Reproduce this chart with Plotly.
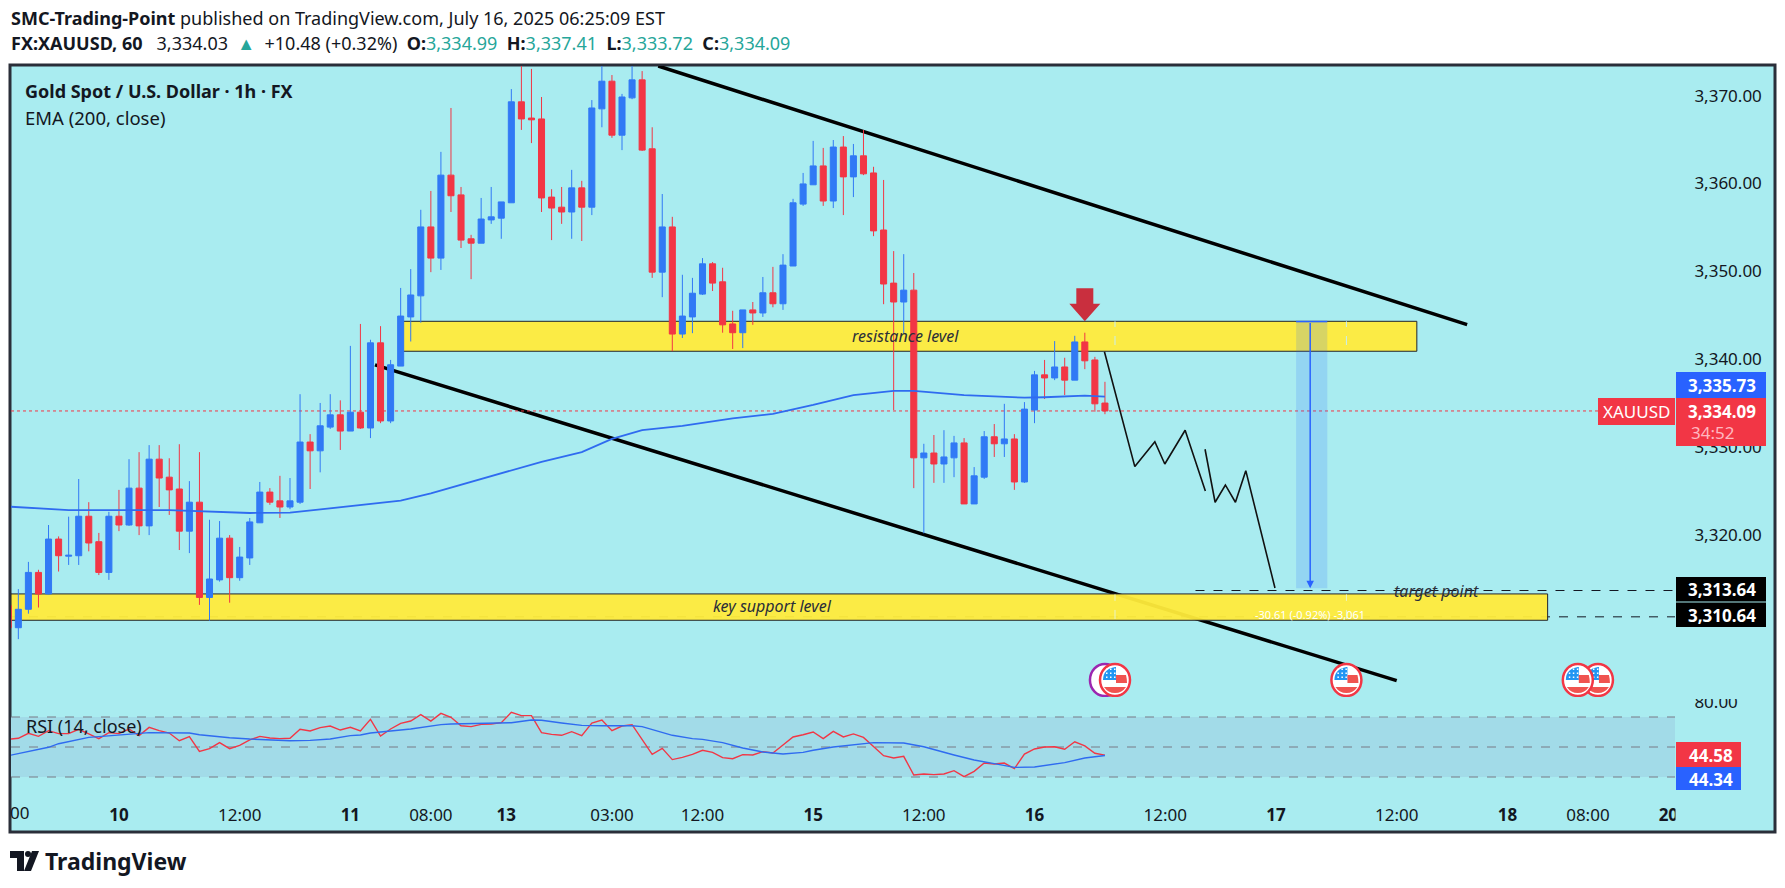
import plotly.graph_objects as go

W = 1785
H = 888
FONT = "Noto Sans"
INK = "#131722"
BLUE = "#3179f5"
RED = "#f23645"
TEAL = "#26a69a"

opens = [3311.9, 3309.4, 3311.5, 3315.7, 3313.25, 3319.5, 3317.55, 3317.6, 3322.1, 3319.2,
         3315.7, 3322.1, 3321.1, 3325.3, 3321.0, 3328.6, 3326.55, 3325.2, 3320.4, 3323.7,
         3312.85, 3314.85, 3319.6, 3315.1, 3317.35, 3321.35, 3324.85, 3323.85, 3323.15, 3323.7,
         3330.55, 3329.55, 3332.25, 3333.65, 3331.8, 3333.95, 3332.15, 3341.85, 3332.95, 3339.2,
         3344.8, 3347.2, 3355.05, 3351.5, 3360.95, 3358.7, 3353.7, 3353.2, 3355.85, 3356.05,
         3357.8, 3369.3, 3367.45, 3367.35, 3358.45, 3357.3, 3356.75, 3359.5, 3357.3, 3368.5,
         3371.65, 3365.5, 3369.75, 3371.8, 3363.95, 3349.9, 3355.05, 3342.85, 3344.8, 3347.4,
         3350.85, 3348.8, 3344.0, 3343.0, 3345.6, 3345.25, 3347.55, 3346.3, 3350.6, 3357.65,
         3359.85, 3362.0, 3358.0, 3364.15, 3360.75, 3363.15, 3361.2, 3354.7, 3348.65, 3346.5,
         3347.85, 3328.75, 3329.3, 3328.05, 3328.75, 3330.45, 3323.5, 3326.55, 3331.15, 3330.35,
         3330.9, 3326.0, 3334.2, 3338.2, 3337.85, 3339.1, 3337.6, 3341.95, 3339.9, 3334.99]
highs = [3312.0, 3313.8, 3316.9, 3316.0, 3321.1, 3319.8, 3322.05, 3326.34, 3323.7, 3320.2,
         3322.6, 3325.1, 3328.6, 3329.4, 3330.2, 3330.2, 3328.7, 3330.3, 3326.1, 3329.4,
         3321.7, 3321.55, 3319.95, 3318.6, 3321.9, 3326.0, 3325.3, 3326.7, 3326.45, 3336.0,
         3331.45, 3335.0, 3336.0, 3335.3, 3341.5, 3344.0, 3342.2, 3343.75, 3339.9, 3348.1,
         3350.25, 3357.0, 3359.15, 3363.6, 3368.6, 3359.6, 3354.15, 3358.35, 3359.6, 3357.9,
         3370.75, 3374.5, 3373.05, 3369.85, 3359.35, 3359.6, 3361.55, 3360.3, 3369.5, 3374.5,
         3372.35, 3370.2, 3374.2, 3372.8, 3366.4, 3358.8, 3356.2, 3349.6, 3349.25, 3351.5,
         3351.05, 3350.4, 3345.5, 3345.6, 3346.5, 3349.35, 3350.5, 3351.95, 3358.25, 3361.2,
         3364.85, 3364.05, 3364.95, 3365.4, 3364.5, 3366.1, 3361.9, 3360.4, 3352.3, 3351.95,
         3349.8, 3330.35, 3331.35, 3331.9, 3331.25, 3331.0, 3327.7, 3331.8, 3332.6, 3334.9,
         3331.45, 3335.1, 3338.65, 3339.9, 3342.05, 3340.15, 3342.65, 3343.0, 3340.25, 3337.41]
lows = [3309.4, 3308.1, 3311.0, 3311.7, 3313.2, 3315.8, 3316.55, 3316.55, 3318.1, 3315.4,
        3314.85, 3320.4, 3321.0, 3319.95, 3319.95, 3323.15, 3322.25, 3318.25, 3317.9, 3312.0,
        3310.2, 3314.65, 3312.25, 3314.75, 3316.55, 3321.33, 3323.4, 3321.9, 3322.9, 3323.5,
        3325.2, 3327.1, 3332.05, 3329.65, 3331.8, 3332.05, 3331.0, 3332.7, 3332.7, 3339.2,
        3342.0, 3344.15, 3349.9, 3350.15, 3356.75, 3352.65, 3349.1, 3353.2, 3355.4, 3353.7,
        3357.8, 3366.1, 3364.6, 3356.75, 3353.55, 3355.4, 3353.7, 3353.45, 3356.4, 3366.4,
        3365.2, 3363.8, 3369.6, 3363.7, 3349.25, 3347.05, 3340.9, 3342.4, 3342.95, 3347.3,
        3347.75, 3343.0, 3341.15, 3341.25, 3343.9, 3344.8, 3345.9, 3345.6, 3350.6, 3357.45,
        3359.85, 3357.45, 3357.2, 3356.4, 3358.45, 3360.95, 3354.0, 3346.25, 3334.2, 3342.9,
        3325.3, 3320.15, 3325.9, 3325.9, 3326.55, 3323.5, 3323.5, 3326.35, 3328.85, 3328.85,
        3325.1, 3325.9, 3332.7, 3335.45, 3337.6, 3335.9, 3337.6, 3338.85, 3334.0, 3333.72]
closes = [3309.4, 3311.5, 3315.7, 3313.25, 3319.5, 3317.6, 3317.65, 3322.1, 3319.05, 3315.7,
          3322.1, 3321.1, 3325.3, 3321.0, 3328.6, 3326.45, 3325.1, 3320.4, 3323.7, 3312.85,
          3314.95, 3319.6, 3315.1, 3317.45, 3321.45, 3324.85, 3323.7, 3323.15, 3323.85, 3330.55,
          3329.55, 3332.4, 3333.65, 3331.8, 3333.95, 3332.15, 3341.85, 3332.95, 3339.35, 3344.9,
          3347.3, 3355.05, 3351.5, 3360.95, 3358.6, 3353.55, 3353.2, 3355.95, 3356.2, 3357.9,
          3369.3, 3367.35, 3367.25, 3358.35, 3357.2, 3356.75, 3359.5, 3357.3, 3368.6, 3371.65,
          3365.5, 3369.85, 3371.8, 3363.8, 3349.9, 3355.05, 3342.85, 3344.9, 3347.5, 3350.85,
          3348.65, 3343.9, 3343.0, 3345.6, 3345.25, 3347.55, 3346.3, 3350.7, 3357.8, 3359.95,
          3362.0, 3358.0, 3364.15, 3360.75, 3363.15, 3361.1, 3354.6, 3348.55, 3346.5, 3347.85,
          3328.75, 3329.3, 3328.05, 3328.85, 3330.45, 3323.5, 3326.7, 3331.15, 3330.35, 3330.9,
          3326.0, 3334.3, 3338.2, 3337.85, 3339.1, 3337.6, 3341.95, 3339.8, 3334.9, 3334.09]
bars = list(range(len(closes)))

ema_bars = [0, 6, 16, 24, 28, 32, 36, 39, 42, 47, 53, 57, 60, 63, 67, 72, 76, 80, 84, 88, 90, 95, 101, 103, 107, 109]
ema_values = [3323.2, 3322.8, 3322.8, 3322.47, 3322.5, 3323.0, 3323.46, 3323.87, 3324.7, 3326.3, 3328.3, 3329.4, 3330.9,
              3331.9, 3332.38, 3333.25, 3333.75, 3334.77, 3335.9, 3336.37, 3336.37, 3335.9, 3335.6, 3335.65, 3335.84, 3335.73]

rsi_values = [55.1, 55.8, 59.1, 57.1, 60.9, 58.9, 58.9, 61.8, 58.7, 55.6,
              59.6, 58.9, 62.0, 57.6, 63.1, 60.9, 59.3, 54.2, 56.9, 47.1,
              48.9, 52.9, 48.9, 51.1, 54.7, 57.1, 56.0, 55.6, 55.8, 61.8,
              60.7, 62.9, 64.0, 61.3, 63.1, 60.7, 68.4, 57.3, 62.0, 65.8,
              67.3, 71.6, 67.3, 72.4, 69.8, 64.2, 63.6, 65.1, 65.3, 66.2,
              73.1, 70.9, 70.9, 59.6, 58.4, 57.8, 60.2, 57.6, 66.0, 68.0,
              60.9, 64.0, 64.9, 55.1, 45.1, 49.1, 41.6, 43.1, 45.1, 47.8,
              46.4, 42.9, 42.2, 44.9, 44.7, 46.9, 46.0, 51.3, 56.7, 58.2,
              60.0, 55.6, 60.4, 56.7, 58.7, 56.4, 50.2, 44.2, 42.7, 43.8,
              31.3, 32.0, 31.6, 32.0, 34.2, 30.2, 33.8, 39.3, 38.7, 39.3,
              35.6, 45.3, 48.7, 50.0, 50.2, 48.5, 53.5, 50.7, 45.8, 44.58]
rsi_ma_bars = [0, 4, 5, 8, 9, 12, 14, 18, 19, 22, 24, 28, 30, 32, 34, 35, 36, 40, 41, 43, 44, 47, 49, 50, 52, 53, 55, 57, 59,
               62, 63, 64, 66, 68, 69, 71, 73, 75, 77, 79, 80, 82, 85, 86, 89, 91, 94, 96, 98, 100, 102, 105, 107, 109]
rsi_ma_values = [44.2, 49.8, 52.2, 56.4, 56.9, 58.7, 59.6, 59.3, 58.2, 56.2, 55.3, 54.2, 54.4, 55.3, 57.6, 58.0, 59.3, 62.0,
                 63.1, 64.9, 65.3, 65.8, 66.4, 66.2, 68.0, 67.8, 66.0, 64.4, 64.2, 64.2, 63.6, 61.6, 57.8, 55.6, 55.1, 52.9,
                 49.3, 46.7, 45.3, 46.4, 47.8, 50.0, 52.0, 52.9, 52.7, 50.2, 44.7, 41.3, 38.9, 36.4, 36.7, 39.6, 42.7, 44.34]

path_a_bars = [108.95, 111.97, 113.96, 114.95, 116.97, 118.98]
path_a_prices = [3340.84, 3327.75, 3330.59, 3328.05, 3331.89, 3324.98]
path_b_bars = [118.95, 119.95, 120.97, 121.97, 123.0, 125.9]
path_b_prices = [3329.73, 3323.69, 3325.66, 3323.69, 3327.29, 3313.93]

price_ticks = [3320, 3330, 3340, 3350, 3360, 3370]
time_ticks = [11, 23, 34, 42, 49.5, 60, 69, 80, 91, 102, 115, 126, 138, 149, 157, 165]
time_labels = ["<b>10</b>", "12:00", "<b>11</b>", "08:00", "<b>13</b>", "03:00", "12:00", "<b>15</b>", "12:00", "<b>16</b>",
               "12:00", "<b>17</b>", "12:00", "<b>18</b>", "08:00", "<b>20</b>"]

resistance_zone = [39.2, 140.0, 3340.89, 3344.3]
support_zone = [0.27, 153, 3310.25, 3313.25]
upper_channel = [64.6, 145.0, 3373.38, 3343.92]
lower_channel = [36.45, 138.0, 3339.33, 3303.37]
measure_box = [128.0, 131.1, 3313.9, 3344.27]
measure_bar = 129.4
event_bars = [158, 156, 133, 110]
event_price = 3303.45
event_dash_bars = [110, 133]
last_price = 3334.09
target_high = 3313.64
target_low = 3310.64

X_RANGE = [0.27, 165.66]
Y_RANGE = [3301.51, 3373.38]
RSI_RANGE = [21.33, 82.67]


def px_x(px):
    return px / W


def px_y(py):
    return 1 - py / H


annotations = []
shapes = []


def label(px, py, text, size=17, color=INK, anchor="left", **kw):
    annotations.append(dict(
        xref="paper", yref="paper", x=px_x(px), y=px_y(py), text=text, showarrow=False,
        xanchor=anchor, yanchor="middle", font=dict(family=FONT, size=size, color=color), **kw))


def paper_rect(x0, y0, x1, y1, fill, layer="above", line=None):
    shapes.append(dict(
        type="rect", xref="paper", yref="paper", x0=px_x(x0), x1=px_x(x1), y0=px_y(y0), y1=px_y(y1),
        fillcolor=fill, line=line or dict(width=0), layer=layer))


def data_line(x0, x1, y0, y1, color, width, dash="solid", yref="y", layer="below"):
    shapes.append(dict(
        type="line", xref="x", yref=yref, x0=x0, x1=x1, y0=y0, y1=y1,
        line=dict(color=color, width=width, dash=dash), layer=layer))


def event_flag(bar):
    base = dict(xref="x", yref="y", xsizemode="pixel", ysizemode="pixel", xanchor=bar, yanchor=event_price, layer="above")
    shapes.append(dict(type="circle", x0=-15, x1=15, y0=-16, y1=16, fillcolor="white",
                       line=dict(color="#f23645", width=2.5), **base))
    shapes.append(dict(type="path", path="M -12 0 Q -12 11 0 13 L 1 13 L 1 0 Z", fillcolor="#2196f3", line=dict(width=0), **base))
    shapes.append(dict(type="path", path="M 1 5 L 11 5 Q 12 1 12 -3 L 1 -3 Z", fillcolor="#f05350", line=dict(width=0), **base))
    shapes.append(dict(type="path", path="M -11 -7 L 11 -7 Q 7 -13 0 -13 Q -7 -13 -11 -7 Z", fillcolor="#f05350",
                       line=dict(width=0), **base))
    # stars of the canton
    for dx in (-8, -4, 0):
        for dy in (3, 7, 11):
            shapes.append(dict(type="rect", x0=dx - 1, x1=dx + 0.5, y0=dy - 1, y1=dy + 0.5, fillcolor="white",
                               line=dict(width=0), **base))


# frame and chart background
paper_rect(10, 65, 1775, 832, "#a9ecf0", layer="below", line=dict(color="#2a2e39", width=3))

# levels sit under the yellow zones
data_line(X_RANGE[0], X_RANGE[1], target_low, target_low, "#131722", 1, "dash")
data_line(118, X_RANGE[1], target_high, target_high, "#131722", 1, "dash")
data_line(upper_channel[0], upper_channel[1], upper_channel[2], upper_channel[3], "#000000", 3.5)
data_line(lower_channel[0], lower_channel[1], lower_channel[2], lower_channel[3], "#000000", 3.5)
data_line(X_RANGE[0], X_RANGE[1], last_price, last_price, RED, 1, "dot")

for zone in (resistance_zone, support_zone):
    shapes.append(dict(type="rect", xref="x", yref="y", x0=zone[0], x1=zone[1], y0=zone[2], y1=zone[3],
                       fillcolor="rgba(255,235,59,0.95)", line=dict(color="#20242e", width=1), layer="below"))

for bar in event_dash_bars:
    data_line(bar, bar, 3341.6, 3344.3, "#c8eef2", 1, "dash")
    data_line(bar, bar, 3310.4, 3313.2, "#e8f4c8", 1, "dash")

# measure tool
shapes.append(dict(type="rect", xref="x", yref="y", x0=measure_box[0], x1=measure_box[1], y0=measure_box[2], y1=measure_box[3],
                   fillcolor="rgba(41,98,255,0.17)", line=dict(width=0), layer="below"))
data_line(measure_box[0], measure_box[1], measure_box[3], measure_box[3], "#2962ff", 1.5)

# RSI pane
shapes.append(dict(type="rect", xref="x", yref="y2", x0=X_RANGE[0], x1=X_RANGE[1], y0=30, y1=70,
                   fillcolor="#a2dbe8", line=dict(width=0), layer="below"))
for level in (70, 50, 30):
    data_line(X_RANGE[0], X_RANGE[1], level, level, "#787b86", 1, "dash", yref="y2")

# red arrow above the last swing high
shapes.append(dict(type="path", xref="x", yref="y", xsizemode="pixel", ysizemode="pixel", xanchor=107, yanchor=3344.3,
                   path="M 0 0 L -15.5 17.5 L -8.5 17.5 L -8.5 33 L 8.5 33 L 8.5 17.5 L 15.5 17.5 Z",
                   fillcolor="#c92f3e", line=dict(width=0), layer="above"))

# purple marker behind the first flag
shapes.append(dict(type="circle", xref="x", yref="y", xsizemode="pixel", ysizemode="pixel", xanchor=109, yanchor=event_price,
                   x0=-15, x1=15, y0=-16, y1=16, fillcolor="white", line=dict(color="#9c27b0", width=2.5), layer="above"))
for bar in event_bars:
    event_flag(bar)

# price scale tags
paper_rect(1676, 372, 1766, 398, "#2962ff")
paper_rect(1676, 398, 1766, 446, RED)
paper_rect(1598, 398, 1675, 425, RED)
paper_rect(1676, 577, 1766, 601.5, "#000000")
paper_rect(1676, 602.5, 1766, 627, "#000000")
paper_rect(1676, 742, 1741, 767, RED)
paper_rect(1676, 767, 1741, 790, "#2962ff")
# hides the cut tops of the 80.00 label and the right end of the time axis
paper_rect(1676, 688, 1772, 699, "#a9ecf0")
paper_rect(1675.5, 795, 1772, 830, "#a9ecf0")

# TradingView logo
shapes.append(dict(type="path", xref="paper", yref="paper", fillcolor="#131722", line=dict(width=0), layer="above",
                   path="M {0} {2} L {1} {2} L {1} {3} L {4} {3} L {4} {5} L {0} {5} Z".format(
                       px_x(10), px_x(24), px_y(851), px_y(871), px_x(17), px_y(858))))
shapes.append(dict(type="circle", xref="paper", yref="paper", fillcolor="#131722", line=dict(width=0), layer="above",
                   x0=px_x(25), x1=px_x(31), y0=px_y(857), y1=px_y(851)))
shapes.append(dict(type="path", xref="paper", yref="paper", fillcolor="#131722", line=dict(width=0), layer="above",
                   path="M {0} {3} L {1} {4} L {2} {4} L {5} {3} Z".format(
                       px_x(24), px_x(32), px_x(39), px_y(871), px_y(851), px_x(31))))

# header
label(9, 18, "<b>SMC-Trading-Point</b> published on TradingView.com, July 16, 2025 06:25:09 EST", size=18)
teal = lambda s: '<span style="color:%s">%s</span>' % (TEAL, s)
label(9, 43, "<b>FX:XAUUSD, 60</b>   3,334.03  " + teal("▲") + "  +10.48 (+0.32%)  <b>O:</b>" + teal("3,334.99") +
      "  <b>H:</b>" + teal("3,337.41") + "  <b>L:</b>" + teal("3,333.72") + "  <b>C:</b>" + teal("3,334.09"), size=18)

# pane titles
label(23, 91, "<b>Gold Spot / U.S. Dollar · 1h · FX</b>", size=18)
label(23, 117, "EMA (200, close)", size=18.5)
label(24, 726, "RSI (14, close)", size=18)

# price tags text
label(1758, 385, "<b>3,335.73</b>", color="white", anchor="right")
label(1758, 411, "<b>3,334.09</b>", color="white", anchor="right")
label(1689, 432, "34:52", color="#ffb8c0")
label(1636, 412, "XAUUSD", color="white", anchor="center", size=17)
label(1758, 589, "<b>3,313.64</b>", color="white", anchor="right")
label(1758, 615, "<b>3,310.64</b>", color="white", anchor="right")
label(1735, 755, "<b>44.58</b>", color="white", anchor="right")
label(1735, 779, "<b>44.34</b>", color="white", anchor="right")
label(19, 812, "00", anchor="center")

# notes on the zones
note_font = dict(family=FONT, size=16, color="#2a2e39")
annotations.append(dict(x=89.2, y=3342.63, xref="x", yref="y", text="<i>resistance level</i>", showarrow=False, font=note_font))
annotations.append(dict(x=76, y=3311.9, xref="x", yref="y", text="<i>key support level</i>", showarrow=False, font=note_font))
annotations.append(dict(x=142.0, y=3313.64, xref="x", yref="y", text="<i>target point</i>", showarrow=False, font=note_font))
annotations.append(dict(x=measure_bar, y=3310.9, xref="x", yref="y", text="-30.61 (-0.92%) -3,061", showarrow=False,
                        font=dict(family=FONT, size=11, color="white")))
annotations.append(dict(x=measure_bar, y=3313.9, ax=measure_bar, ay=3344.27, xref="x", yref="y", axref="x", ayref="y",
                        text="", showarrow=True, arrowhead=2, arrowsize=1, arrowwidth=1.5, arrowcolor="#2962ff"))
label(43, 861, "<b>TradingView</b>", size=23)

fig = go.Figure()
fig.add_trace(go.Candlestick(
    x=bars, open=opens, high=highs, low=lows, close=closes,
    increasing=dict(line=dict(color=BLUE, width=1), fillcolor=BLUE),
    decreasing=dict(line=dict(color=RED, width=1), fillcolor=RED),
    yaxis="y", xaxis="x"))
fig.add_trace(go.Scatter(x=ema_bars, y=ema_values, mode="lines", line=dict(color="#2f6bf0", width=1.8)))
fig.add_trace(go.Scatter(x=path_a_bars, y=path_a_prices, mode="lines", line=dict(color="#111111", width=1.6)))
fig.add_trace(go.Scatter(x=path_b_bars, y=path_b_prices, mode="lines", line=dict(color="#111111", width=1.6)))
fig.add_trace(go.Scatter(x=bars, y=rsi_values, mode="lines", yaxis="y2", line=dict(color="#f23645", width=1.4)))
fig.add_trace(go.Scatter(x=rsi_ma_bars, y=rsi_ma_values, mode="lines", yaxis="y2", line=dict(color="#2f6bf0", width=1.4)))

tick_font = dict(family=FONT, size=17, color=INK)
fig.update_layout(
    width=W,
    height=H,
    margin=dict(l=0, r=0, t=0, b=0, pad=0, autoexpand=False),
    autosize=False,
    showlegend=False,
    boxgap=0.25,
    boxgroupgap=0.2,
    paper_bgcolor="white",
    plot_bgcolor="rgba(0,0,0,0)",
    shapes=shapes,
    annotations=annotations,
    font=dict(family=FONT, color=INK),
    xaxis=dict(
        domain=[px_x(11), px_x(1675)], range=X_RANGE, anchor="y2", showgrid=False, zeroline=False, automargin=False,
        rangeslider=dict(visible=False), tickmode="array", tickvals=time_ticks, ticktext=time_labels,
        ticks="outside", ticklen=10, tickcolor="rgba(0,0,0,0)", tickfont=tick_font, tickangle=0, showline=False),
    yaxis=dict(
        domain=[px_y(697), px_y(66)], range=Y_RANGE, anchor="x", side="right", showgrid=False, zeroline=False,
        automargin=False, tickmode="array", tickvals=price_ticks, tickformat=",.2f", ticks="outside", ticklen=15,
        tickcolor="rgba(0,0,0,0)", tickfont=tick_font, showline=False),
    yaxis2=dict(
        domain=[px_y(790), px_y(698)], range=RSI_RANGE, anchor="x", side="right", showgrid=False, zeroline=False,
        automargin=False, tickmode="array", tickvals=[80], tickformat=".2f", ticks="outside", ticklen=15,
        tickcolor="rgba(0,0,0,0)", tickfont=tick_font, showline=False),
)

fig.write_html("out.html", config=dict(displayModeBar=False),
               post_script="document.body.style.margin='0';document.body.style.overflow='hidden';")
